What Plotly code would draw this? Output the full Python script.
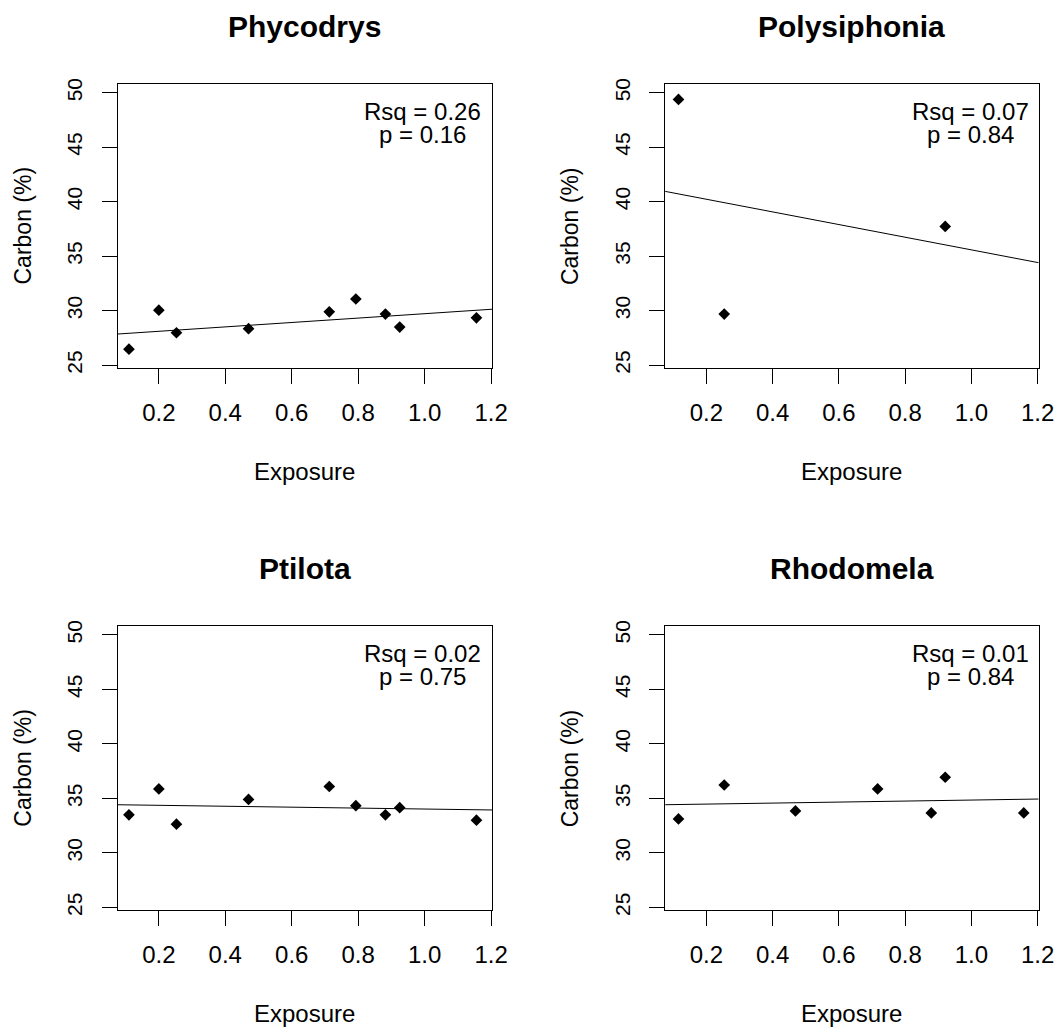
import plotly.graph_objects as go

# ---------------- data ----------------
species = ["Phycodrys", "Polysiphonia", "Ptilota", "Rhodomela"]

exposure_phycodrys = [0.11, 0.20, 0.253, 0.47, 0.713, 0.793, 0.882, 0.925, 1.156]
carbon_phycodrys = [26.46, 30.04, 27.97, 28.34, 29.89, 31.07, 29.68, 28.49, 29.34]

exposure_polysiphonia = [0.116, 0.254, 0.921]
carbon_polysiphonia = [49.39, 29.68, 37.73]

exposure_ptilota = [0.11, 0.20, 0.253, 0.47, 0.713, 0.793, 0.882, 0.925, 1.156]
carbon_ptilota = [33.49, 35.87, 32.64, 34.91, 36.09, 34.33, 33.49, 34.15, 33.00]

exposure_rhodomela = [0.116, 0.254, 0.469, 0.717, 0.879, 0.921, 1.158]
carbon_rhodomela = [33.12, 36.23, 33.85, 35.87, 33.67, 36.94, 33.67]

# fitted regression lines (intercept, slope)
intercepts = [27.70, 41.39, 34.45, 34.385]
slopes = [2.02, -5.81, -0.425, 0.463]

rsq_labels = ["Rsq = 0.26", "Rsq = 0.07", "Rsq = 0.02", "Rsq = 0.01"]
p_labels = ["p = 0.16", "p = 0.84", "p = 0.75", "p = 0.84"]

x_ticks = [0.2, 0.4, 0.6, 0.8, 1.0, 1.2]
x_tick_text = ["0.2", "0.4", "0.6", "0.8", "1.0", "1.2"]
y_ticks = [25, 30, 35, 40, 45, 50]
y_tick_text = ["25", "30", "35", "40", "45", "50"]

x_label = "Exposure"
y_label = "Carbon (%)"

# ---------------- layout geometry ----------------
W, H = 1061, 1034
X_RANGE = [0.0757, 1.203]
Y_RANGE = [24.72, 50.85]
KX = 1.014  # horizontal calibration

# plot boxes in pixels: (left, right, top, bottom)
boxes = [
    (117.7, 492.7, 79.3, 366.7),
    (666.0, 1040.0, 79.3, 366.7),
    (117.7, 492.7, 626.7, 914.3),
    (666.0, 1040.0, 626.7, 914.3),
]

def px(x):
    return min(1.0, x * KX / W)

def py(y):
    return 1 - y / H

FONT = "Liberation Sans, Arial, sans-serif"

xs = [exposure_phycodrys, exposure_polysiphonia, exposure_ptilota, exposure_rhodomela]
ys = [carbon_phycodrys, carbon_polysiphonia, carbon_ptilota, carbon_rhodomela]

fig = go.Figure()
annotations = []
layout_axes = {}

for i in range(4):
    n = i + 1
    xa = "x" if n == 1 else f"x{n}"
    ya = "y" if n == 1 else f"y{n}"
    left, right, top, bottom = boxes[i]

    fig.add_trace(go.Scatter(
        x=xs[i], y=ys[i], mode="markers", xaxis=xa, yaxis=ya,
        marker=dict(symbol="diamond", size=9, color="black", line=dict(width=0)),
        showlegend=False, hoverinfo="x+y"))

    lx = X_RANGE
    ly = [intercepts[i] + slopes[i] * v for v in lx]
    fig.add_trace(go.Scatter(
        x=lx, y=ly, mode="lines", xaxis=xa, yaxis=ya,
        line=dict(color="black", width=1), showlegend=False, hoverinfo="skip"))

    axis_common = dict(
        showline=True, mirror=True, linecolor="black", linewidth=1,
        ticks="outside", ticklen=15, tickwidth=1, tickcolor="black",
        showgrid=False, zeroline=False, fixedrange=True,
    )
    layout_axes["xaxis" if n == 1 else f"xaxis{n}"] = dict(
        axis_common, domain=[px(left), px(right)], range=X_RANGE,
        anchor=ya, tickvals=x_ticks, ticktext=x_tick_text, ticklabelstandoff=8,
        tickfont=dict(family=FONT, size=24, color="black"),
    )
    layout_axes["yaxis" if n == 1 else f"yaxis{n}"] = dict(
        axis_common, domain=[py(bottom), py(top)], range=Y_RANGE,
        anchor=xa, tickvals=y_ticks, ticktext=y_tick_text, tickangle=-90,
        ticklabelstandoff=11,
        tickfont=dict(family=FONT, size=21, color="black"),
    )

    cx = (left + right) / 2
    annotations.append(dict(
        text=f"<b>{species[i]}</b>", x=px(cx), y=py(top - 58), xref="paper", yref="paper",
        xanchor="center", yanchor="middle", showarrow=False,
        font=dict(family=FONT, size=30, color="black")))
    annotations.append(dict(
        text=x_label, x=px(cx), y=py(bottom + 104), xref="paper", yref="paper",
        xanchor="center", yanchor="middle", showarrow=False,
        font=dict(family=FONT, size=24, color="black")))
    annotations.append(dict(
        text=y_label, x=px(left - 95), y=py((top + bottom) / 2), xref="paper", yref="paper",
        xanchor="center", yanchor="middle", showarrow=False, textangle=-90,
        font=dict(family=FONT, size=23, color="black")))
    annotations.append(dict(
        text=rsq_labels[i], x=px(left + 305.6), y=py(top + 28.5), xref="paper", yref="paper",
        xanchor="center", yanchor="middle", showarrow=False,
        font=dict(family=FONT, size=24, color="black")))
    annotations.append(dict(
        text=p_labels[i], x=px(left + 305.6), y=py(top + 51), xref="paper", yref="paper",
        xanchor="center", yanchor="middle", showarrow=False,
        font=dict(family=FONT, size=24, color="black")))

fig.update_layout(
    width=W, height=H, margin=dict(l=0, r=0, t=0, b=0), autosize=False,
    paper_bgcolor="white", plot_bgcolor="white",
    annotations=annotations, showlegend=False,
    font=dict(family=FONT, color="black"),
    **layout_axes,
)

fig.write_html("out.html", config={"displayModeBar": False, "responsive": False})
